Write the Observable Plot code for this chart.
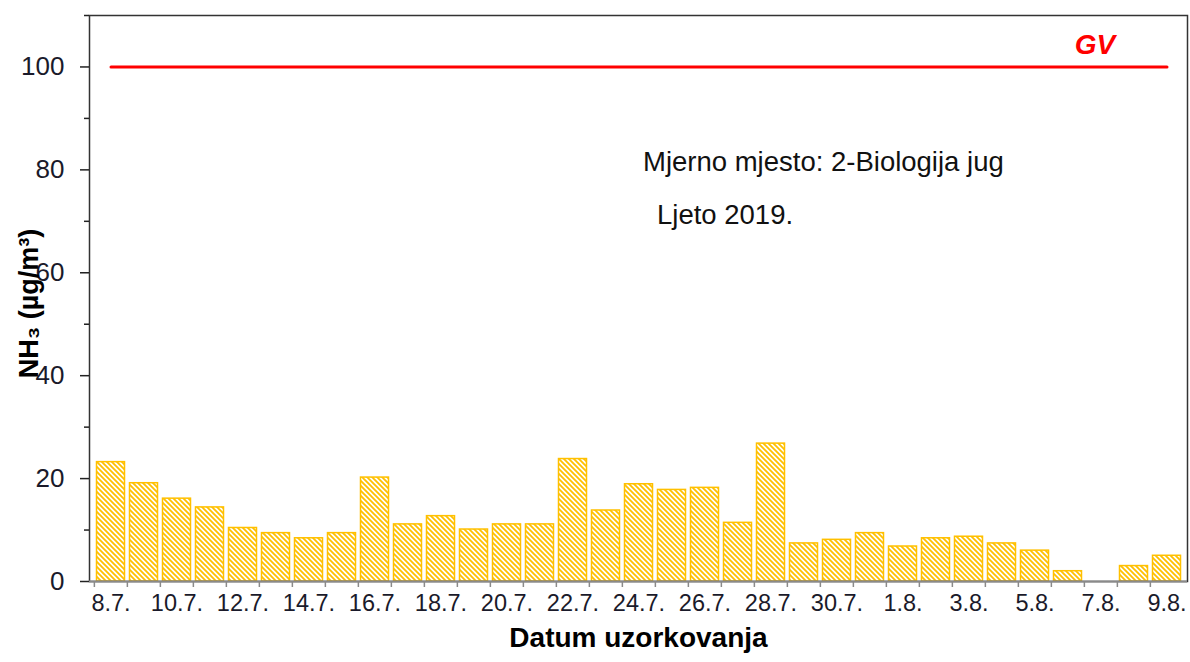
<!DOCTYPE html>
<html>
<head>
<meta charset="utf-8">
<script src="https://cdn.jsdelivr.net/npm/d3@7"></script>
<script src="https://cdn.jsdelivr.net/npm/@observablehq/plot@0.6"></script>
<style>
  html, body { margin: 0; padding: 0; background: #fff; }
  #chart { width: 1190px; height: 662px; }
</style>
</head>
<body>
<div id="chart"></div>
<script>
const dates = ["8.7.","9.7.","10.7.","11.7.","12.7.","13.7.","14.7.","15.7.","16.7.","17.7.","18.7.","19.7.","20.7.","21.7.","22.7.","23.7.","24.7.","25.7.","26.7.","27.7.","28.7.","29.7.","30.7.","31.7.","1.8.","2.8.","3.8.","4.8.","5.8.","6.8.","7.8.","8.8.","9.8."];
const nh3 = [23.2,19.1,16.1,14.4,10.4,9.4,8.4,9.4,20.2,11.1,12.7,10.1,11.1,11.1,23.8,13.8,18.9,17.8,18.2,11.4,26.8,7.4,8.1,9.4,6.8,8.4,8.7,7.4,6.0,2.0,null,3.0,5.0];
const gvValue = 100;
const gvLabel = "GV";
const yMajor = [0,20,40,60,80,100];
const yMinor = [10,30,50,70,90,110];
const labeledDates = dates.filter((d,i) => i % 2 === 0);
const note1 = "Mjerno mjesto: 2-Biologija jug";
const note2 = "Ljeto 2019.";
const yTitle = "NH₃ (µg/m³)";
const xTitle = "Datum uzorkovanja";

const data = dates.map((d,i) => ({date: d, v: nh3[i]}));
const W = 1190, H = 662, mL = 89, mR = 3, mT = 15, mB = 81;
const step = (W - mL - mR) / dates.length;
const font = "'Liberation Sans', Arial, sans-serif";

const chart = Plot.plot({
  width: W, height: H,
  marginLeft: mL, marginRight: mR, marginTop: mT, marginBottom: mB,
  style: {fontFamily: font, background: "#fff", overflow: "visible"},
  x: {type: "band", domain: dates, padding: 0},
  y: {domain: [0, 110]},
  marks: [
    Plot.rectY(data.filter(d => d.v != null), {
      x: "date", y: "v", fill: "url(#hatch)", stroke: "#FFC000", strokeWidth: 1.5,
      insetLeft: 2.5, insetRight: 2.5
    }),
    Plot.lineY([{x: dates[0], y: gvValue}, {x: dates[dates.length-1], y: gvValue}], {
      x: "x", y: "y", stroke: "#FF0000", strokeWidth: 3
    }),
    Plot.text([gvLabel], {
      x: () => dates[30], y: () => 104.3, text: d => d, fill: "#FF0000",
      fontSize: 28, fontWeight: "bold", fontStyle: "italic", dx: -6
    }),
    Plot.text([note1], {
      x: () => dates[16], y: () => 81.4, text: d => d, textAnchor: "start",
      fontSize: 27.5, fill: "#111", dx: 4
    }),
    Plot.text([note2], {
      x: () => dates[16], y: () => 71.1, text: d => d, textAnchor: "start",
      fontSize: 27.5, fill: "#111", dx: 18
    }),
    Plot.frame({stroke: "#333", strokeWidth: 1.5}),
    Plot.axisY({ticks: yMajor, tickSize: 9, tickPadding: 16, fontSize: 26, label: null, stroke: "#222", color: "#1a1a2a", strokeWidth: 1.5}),
    Plot.axisY({ticks: yMinor, tickSize: 5, tickFormat: () => "", label: null, stroke: "#222", strokeWidth: 1.5}),
    Plot.ruleY([0], {stroke: "#8a8a8a", strokeWidth: 2}),
    Plot.axisX({ticks: dates, tickSize: 6, tickFormat: () => "", label: null, dx: -step/2, stroke: "#8a8a8a", strokeWidth: 1.5}),
    Plot.axisX({ticks: labeledDates, tickSize: 0, tickPadding: 13, fontSize: 23.5, label: null, color: "#1a1a2a"}),
    Plot.text([yTitle], {
      frameAnchor: "left", textAnchor: "middle", text: d => d, rotate: -90, dx: -60, dy: 5,
      fontSize: 27, fontWeight: "bold", fill: "#000"
    }),
    Plot.text([xTitle], {
      frameAnchor: "bottom", text: d => d, dy: 65,
      fontSize: 28, fontWeight: "bold", fill: "#000"
    })
  ]
});

const ns = "http://www.w3.org/2000/svg";
const defs = document.createElementNS(ns, "defs");
defs.innerHTML = `<pattern id="hatch" patternUnits="userSpaceOnUse" width="5" height="5">
  <rect width="5" height="5" fill="#ffffff"/>
  <path d="M-1,-1 L6,6 M-1,4 L1,6 M4,-1 L6,1" stroke="#FFC000" stroke-width="1.8"/>
</pattern>`;
chart.insertBefore(defs, chart.firstChild);
document.getElementById("chart").appendChild(chart);
</script>
</body>
</html>
